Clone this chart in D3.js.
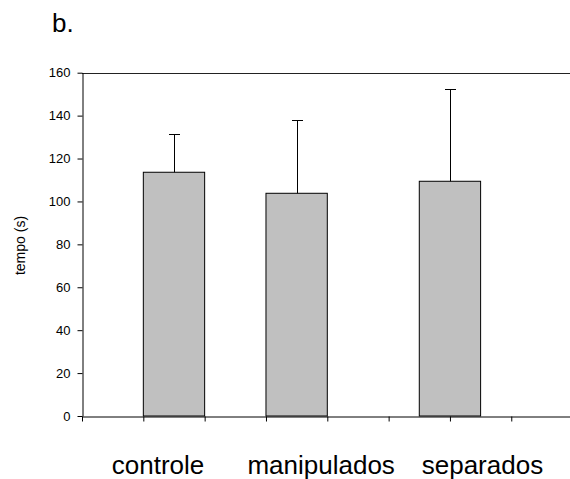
<!DOCTYPE html>
<html><head><meta charset="utf-8">
<script src="https://cdn.jsdelivr.net/npm/d3@7"></script>
<style>
html,body{margin:0;padding:0;background:#fff;}
svg{display:block;font-family:Arial,"Liberation Sans",sans-serif;}
</style></head>
<body>
<script>
// data
const categories = ["controle", "manipulados", "separados"];
const means = [113.6, 103.8, 109.4];
const upperErr = [131.3, 137.8, 152.2];
const barSlot = [1.5, 3.5, 6];        // bar centre on the x axis (axis units)
const labelSlot = [1.24, 3.9, 6.53];  // category label centre (axis units)
const yTicks = [0, 20, 40, 60, 80, 100, 120, 140, 160];
const xTicks = [0, 1, 2, 3, 4, 5, 6, 7, 8];
const panelLabel = "b.";
const yTitle = "tempo (s)";

const W = 570, H = 479;
const svg = d3.select("body").append("svg").attr("width", W).attr("height", H);

const x = d3.scaleLinear().domain([0, 8]).range([82, 572.6]);
const y = d3.scaleLinear().domain([0, 160]).range([416, 72.7]);

// panel label
svg.append("text").attr("x", 52).attr("y", 32).attr("font-size", 26).attr("fill", "#000").text(panelLabel);

// top frame line
svg.append("line").attr("x1", x(0)).attr("x2", x(8)).attr("y1", Math.round(y(160)) + 0.5).attr("y2", Math.round(y(160)) + 0.5)
  .attr("stroke", "#222").attr("stroke-width", 1);

// bars
const bw = x(1) - x(0);
svg.selectAll("rect.bar").data(means).enter().append("rect").attr("class", "bar")
  .attr("x", (d, i) => x(barSlot[i]) - bw / 2)
  .attr("y", d => y(d))
  .attr("width", bw)
  .attr("height", d => y(0) - y(d))
  .attr("fill", "#c0c0c0").attr("stroke", "#000").attr("stroke-width", 1);

// error bars
const eg = svg.append("g");
means.forEach((m, i) => {
  const cx = Math.round(x(barSlot[i])) + 0.5;
  eg.append("line").attr("x1", cx).attr("x2", cx).attr("y1", y(m)).attr("y2", y(upperErr[i])).attr("stroke", "#000");
  eg.append("line").attr("x1", cx - 5.5).attr("x2", cx + 5.5).attr("y1", Math.round(y(upperErr[i])) + 0.5).attr("y2", Math.round(y(upperErr[i])) + 0.5).attr("stroke", "#000");
});

// axes
const ya = svg.append("g").attr("transform", "translate(0.5,0)")
  .call(d3.axisLeft(y).tickValues(yTicks).tickSize(5).tickSizeOuter(0).tickPadding(7));
ya.selectAll("text").attr("font-size", 13).attr("font-family", "Arial, 'Liberation Sans', sans-serif").attr("fill", "#000");
ya.selectAll("line,path").attr("stroke", "#000");
ya.attr("transform", `translate(${x(0) + 0.5},0)`);

const xa = svg.append("g").attr("transform", `translate(0,${y(0) + 0.5})`)
  .call(d3.axisBottom(x).tickValues(xTicks).tickSize(5).tickSizeOuter(0).tickFormat(""));
xa.selectAll("line,path").attr("stroke", "#000");

// y title
svg.append("text").attr("transform", "translate(25,245.5) rotate(-90)")
  .attr("text-anchor", "middle").attr("font-size", 14).attr("fill", "#000").text(yTitle);

// category labels
svg.selectAll("text.cat").data(categories).enter().append("text").attr("class", "cat")
  .attr("x", (d, i) => x(labelSlot[i])).attr("y", 474)
  .attr("text-anchor", "middle").attr("font-size", 26).attr("fill", "#000").text(d => d);
</script>
</body></html>
